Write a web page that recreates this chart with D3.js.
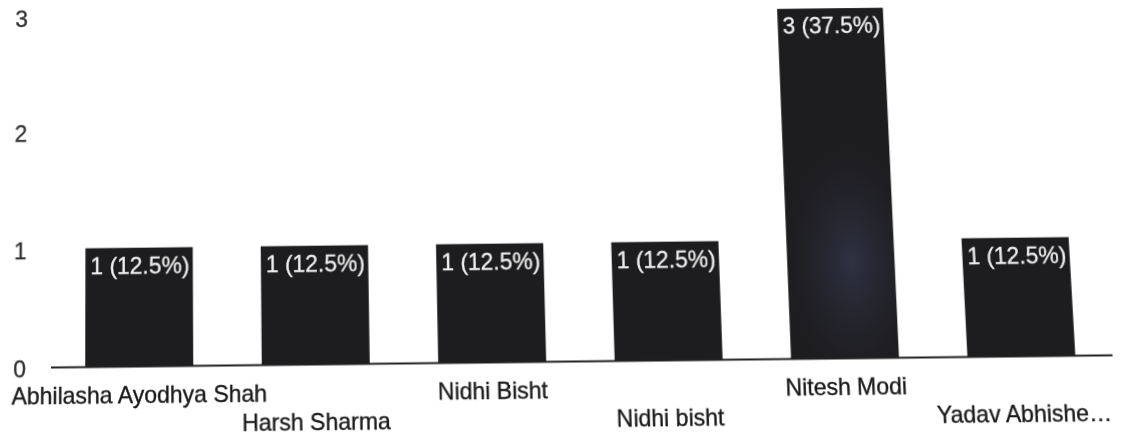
<!DOCTYPE html>
<html>
<head>
<meta charset="utf-8">
<script src="https://cdn.jsdelivr.net/npm/d3@7"></script>
<style>
  html, body { margin: 0; padding: 0; background: #ffffff; overflow: hidden; }
  svg {
    display: block;
    overflow: visible;
    /* slight camera tilt of the photographed screen */
    transform-origin: 313px 364px;
    transform: perspective(1000px) rotateX(3.4deg) rotateZ(-0.66deg);
  }
  text { font-family: "Liberation Sans", Arial, sans-serif; }
</style>
</head>
<body>
<svg id="chart" width="1121" height="435"></svg>
<script>
// Responses per name
const categories = [
  "Abhilasha Ayodhya Shah",
  "Harsh Sharma",
  "Nidhi Bisht",
  "Nidhi bisht",
  "Nitesh Modi",
  "Yadav Abhishe…"
];
const counts   = [1, 1, 1, 1, 3, 1];
const percents = [12.5, 12.5, 12.5, 12.5, 37.5, 12.5];
const yTicks   = [0, 1, 2, 3];

const data = categories.map((c, i) => ({ name: c, count: counts[i], pct: percents[i], i }));

const svg = d3.select("#chart");

const x = d3.scaleBand()
  .domain(categories)
  .range([48, 1113])
  .paddingInner(0.388)
  .paddingOuter(0.211);

const y = d3.scaleLinear()
  .domain([0, 3])
  .range([364, 6.1]);

const fontSize = 23;

// soft glare gradient on the tallest bar
const defs = svg.append("defs");
const glare = defs.append("radialGradient").attr("id", "glare")
  .attr("cx", "50%").attr("cy", "50%").attr("r", "50%");
glare.append("stop").attr("offset", "0%").attr("stop-color", "#5c6196").attr("stop-opacity", 0.3);
glare.append("stop").attr("offset", "55%").attr("stop-color", "#44476e").attr("stop-opacity", 0.14);
glare.append("stop").attr("offset", "100%").attr("stop-color", "#2a2a3a").attr("stop-opacity", 0);

// y-axis labels (no gridlines)
svg.append("g").selectAll("text")
  .data(yTicks)
  .join("text")
  .attr("x", 26)
  .attr("y", d => y(d) + 10)
  .attr("text-anchor", "end")
  .attr("font-size", fontSize)
  .attr("fill", "#333333")
  .attr("stroke", "#333333")
  .attr("stroke-width", 0.35)
  .text(d => d);

// bars
svg.append("g").selectAll("rect")
  .data(data)
  .join("rect")
  .attr("x", d => x(d.name))
  .attr("y", d => y(d.count))
  .attr("width", x.bandwidth())
  .attr("height", d => y(0) - y(d.count))
  .attr("fill", "#1d1d1f");

// glare on the tallest bar
const tallest = data.reduce((a, b) => (b.count > a.count ? b : a));
defs.append("clipPath").attr("id", "tallClip")
  .append("rect")
  .attr("x", x(tallest.name)).attr("y", y(tallest.count))
  .attr("width", x.bandwidth()).attr("height", y(0) - y(tallest.count));
svg.append("ellipse")
  .attr("clip-path", "url(#tallClip)")
  .attr("cx", x(tallest.name) + x.bandwidth() * 0.6)
  .attr("cy", y(tallest.count * 0.27))
  .attr("rx", x.bandwidth() * 0.65)
  .attr("ry", (y(0) - y(tallest.count)) * 0.36)
  .attr("fill", "url(#glare)");

// value labels inside bars
svg.append("g").selectAll("text")
  .data(data)
  .join("text")
  .attr("x", d => x(d.name) + 5)
  .attr("y", d => y(d.count) + 26)
  .attr("font-size", fontSize)
  .attr("fill", "#eeeeee")
  .attr("stroke", "#eeeeee")
  .attr("stroke-width", 0.3)
  .text(d => `${d.count} (${d.pct}%)`);

// baseline
svg.append("line")
  .attr("x1", x.range()[0] + 3)
  .attr("x2", x.range()[1])
  .attr("y1", y(0) + 0.5)
  .attr("y2", y(0) + 0.5)
  .attr("stroke", "#222222")
  .attr("stroke-width", 2);

// category labels, staggered over two rows
svg.append("g").selectAll("text")
  .data(data)
  .join("text")
  .attr("x", d => x(d.name) + x.bandwidth() / 2)
  .attr("y", d => y(0) + (d.i % 2 === 0 ? 37 : 66))
  .attr("text-anchor", "middle")
  .attr("font-size", fontSize)
  .attr("fill", "#1a1a1a")
  .attr("stroke", "#1a1a1a")
  .attr("stroke-width", 0.35)
  .text(d => d.name);
</script>
</body>
</html>
